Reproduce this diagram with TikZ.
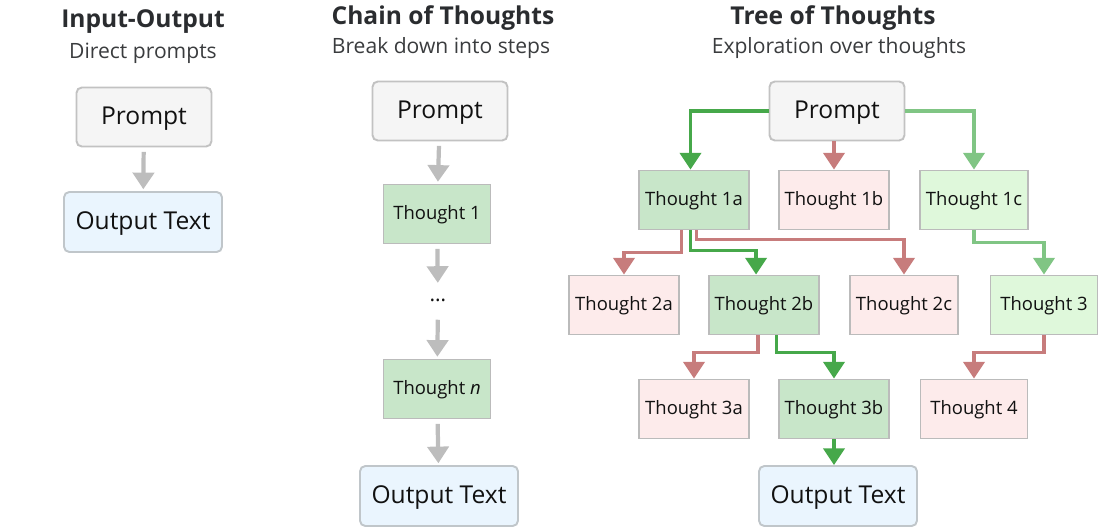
\documentclass[tikz,border=0pt]{standalone}
\usepackage{fontspec}
\setmainfont{Open Sans}
\usetikzlibrary{arrows.meta}

\definecolor{promptfill}{HTML}{F5F5F5}
\definecolor{promptline}{HTML}{C2C2C2}
\definecolor{outfill}{HTML}{EAF5FE}
\definecolor{outline}{HTML}{C0C6CA}
\definecolor{boxline}{HTML}{BBBBBB}
\definecolor{goodfill}{HTML}{C8E6C9}
\definecolor{badfill}{HTML}{FDEBEB}
\definecolor{okfill}{HTML}{DFF8DB}
\definecolor{arrgray}{HTML}{BDBDBD}
\definecolor{arrgreen}{HTML}{46A84A}
\definecolor{arrred}{HTML}{C77C7C}
\definecolor{arrlight}{HTML}{80C584}
\definecolor{titlecol}{HTML}{2A2C2F}
\definecolor{subcol}{HTML}{3A3C3E}
\definecolor{textcol}{HTML}{111111}

\begin{document}
\begin{tikzpicture}[line join=miter,x=0.02cm,y=0.02cm,
    >={Triangle[width=12pt,length=9.5pt]},
    promptbox/.style={draw=promptline,fill=promptfill,rounded corners=3pt,line width=1.1pt,
      minimum width=2.7cm,minimum height=1.18cm,text height=1.05em,text depth=0.2em,
      text=textcol,font=\fontsize{14}{16}\selectfont},
    outbox/.style={promptbox,draw=outline,fill=outfill,minimum width=3.16cm,minimum height=1.2cm},
    thought/.style={draw=boxline,line width=1.1pt,minimum width=2.14cm,minimum height=1.18cm,
      text height=0.9em,text depth=0.25em,text=textcol,font=\fontsize{10.5}{12}\selectfont},
    goodbox/.style={thought,fill=goodfill},
    badbox/.style={thought,fill=badfill},
    okbox/.style={thought,fill=okfill},
    title/.style={text=titlecol,font=\bfseries\fontsize{14}{16}\selectfont},
    subtitle/.style={text=subcol,font=\fontsize{12}{14}\selectfont},
    grayarr/.style={->,draw=arrgray,line width=2.4pt,shorten <=2.5pt,shorten >=1pt},
    greenarr/.style={->,draw=arrgreen,line width=2pt},
    redarr/.style={->,draw=arrred,line width=2pt},
    lightarr/.style={->,draw=arrlight,line width=2pt}]
  \useasboundingbox (0,0) rectangle (1100,-528);

  % input-output
  \node[title] (iotitle) at (143,-22) {Input-Output};
  \node[subtitle] (iosub) at (143,-53) {Direct prompts};
  \node[promptbox] (iop) at (144,-117) {Prompt};
  \node[outbox] (ioout) at (143,-222) {Output Text};
  \draw[grayarr] (iop) -- (ioout);

  % chain of thoughts
  \node[title] (cottitle) at (443,-18) {Chain of Thoughts};
  \node[subtitle] (cotsub) at (441,-48) {Break down into steps};
  \node[promptbox] (cp) at (440,-111) {Prompt};
  \node[goodbox] (c1) at (437,-214) {Thought 1};
  \node[minimum height=0.6cm,text=textcol,font=\fontsize{12}{14}\selectfont] (cdots) at (438,-300) {\dots};
  \node[goodbox] (cn) at (437,-389) {Thought \textit{n}};
  \node[outbox] (cout) at (439,-496) {Output Text};
  \draw[grayarr] (cp) -- (c1);
  \draw[grayarr] (c1) -- (cdots);
  \draw[grayarr] (cdots) -- (cn);
  \draw[grayarr] (cn) -- (cout);

  % tree of thoughts
  \node[title] (tottitle) at (833,-18) {Tree of Thoughts};
  \node[subtitle] (totsub) at (839,-48) {Exploration over thoughts};
  \node[promptbox] (tp) at (837,-111) {Prompt};
  \node[goodbox] (t1a) at (694,-200) {Thought 1a};
  \node[badbox] (t1b) at (834,-200) {Thought 1b};
  \node[okbox] (t1c) at (974,-200) {Thought 1c};
  \node[badbox] (t2a) at (624,-305) {Thought 2a};
  \node[goodbox] (t2b) at (764,-305) {Thought 2b};
  \node[badbox] (t2c) at (904,-305) {Thought 2c};
  \node[okbox] (t3) at (1044,-305) {Thought 3};
  \node[badbox] (t3a) at (694,-409) {Thought 3a};
  \node[goodbox] (t3b) at (834,-409) {Thought 3b};
  \node[badbox] (t4) at (974,-409) {Thought 4};
  \node[outbox] (tout) at (838,-496) {Output Text};

  \draw[greenarr] (tp.west) -| ([xshift=-2pt]t1a.north);
  \draw[redarr] (t1b.north |- tp.south) -- (t1b.north);
  \draw[lightarr] (tp.east) -| (t1c.north);
  \draw[redarr] ([xshift=-7pt]t1a.south) -- ++(0,-22) -| (t2a.north);
  \draw[greenarr] ([xshift=-2pt]t1a.south) -- ++(0,-20) -| ([xshift=-4.5pt]t2b.north);
  \draw[redarr] ([xshift=1.5pt]t1a.south) -- ++(0,-9) -| (t2c.north);
  \draw[lightarr] (t1c.south) -- ++(0,-12) -| (t3.north);
  \draw[redarr] ([xshift=-3.5pt]t2b.south) -- ++(0,-17) -| (t3a.north);
  \draw[greenarr] ([xshift=7pt]t2b.south) -- ++(0,-17) -| (t3b.north);
  \draw[redarr] (t3.south) -- ++(0,-17) -| (t4.north);
  \draw[greenarr] (t3b.south) -- (t3b.south |- tout.north);
\end{tikzpicture}
\end{document}
